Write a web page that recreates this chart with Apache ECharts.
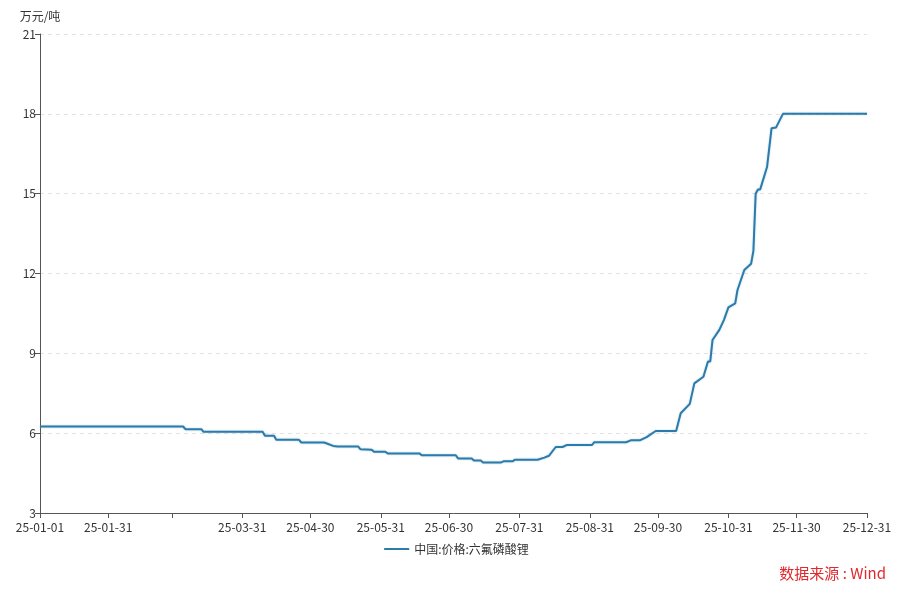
<!DOCTYPE html>
<html>
<head>
<meta charset="utf-8">
<script src="https://cdn.jsdelivr.net/npm/echarts@6/dist/echarts.min.js"></script>
<style>html,body{margin:0;padding:0;background:#fff}#c{width:913px;height:594px}</style>
</head>
<body>
<div id="c"></div>
<script>
// Tick dates (month ends) shown on x axis; Feb 28 tick has no label in the original
const tickDates = ["25-01-01","25-01-31","25-02-28","25-03-31","25-04-30","25-05-31","25-06-30","25-07-31","25-08-31","25-09-30","25-10-31","25-11-30","25-12-31"];
const hiddenLabelDates = ["25-02-28"];
const yTicks = [3, 6, 9, 12, 15, 18, 21];
const seriesName = "中国:价格:六氟磷酸锂";

// Price points (万元/吨) at dates where the series changes
const priceDates = ["25-01-01","25-03-05","25-03-06","25-03-13","25-03-14","25-04-09","25-04-10","25-04-14","25-04-15","25-04-25","25-04-26","25-05-06","25-05-07","25-05-10","25-05-12","25-05-21","25-05-22","25-05-27","25-05-28","25-06-02","25-06-03","25-06-17","25-06-18","25-07-03","25-07-04","25-07-10","25-07-11","25-07-14","25-07-15","25-07-23","25-07-24","25-07-28","25-07-29","25-08-08","25-08-11","25-08-13","25-08-16","25-08-19","25-08-21","25-09-01","25-09-02","25-09-16","25-09-18","25-09-22","25-09-25","25-09-29","25-10-08","25-10-10","25-10-14","25-10-16","25-10-20","25-10-22","25-10-23","25-10-24","25-10-27","25-10-29","25-10-31","25-11-03","25-11-04","25-11-07","25-11-10","25-11-11","25-11-12","25-11-13","25-11-14","25-11-17","25-11-19","25-11-21","25-11-24","25-12-31"];
const priceValues = [6.25,6.25,6.15,6.15,6.05,6.05,5.9,5.9,5.75,5.75,5.65,5.65,5.62,5.52,5.5,5.5,5.4,5.38,5.3,5.3,5.24,5.24,5.17,5.17,5.05,5.05,4.97,4.97,4.9,4.9,4.94,4.94,5.0,5.0,5.08,5.15,5.48,5.48,5.56,5.56,5.66,5.66,5.73,5.73,5.85,6.08,6.08,6.75,7.1,7.87,8.12,8.69,8.69,9.5,9.88,10.25,10.73,10.88,11.38,12.13,12.37,12.85,15.0,15.16,15.16,16.0,17.46,17.49,18.0,18.0];

// All calendar days of 2025 as axis categories
const days = [];
(function(){
  const d = new Date(Date.UTC(2025,0,1));
  while (d.getUTCFullYear() === 2025) {
    const m = String(d.getUTCMonth()+1).padStart(2,'0');
    const dd = String(d.getUTCDate()).padStart(2,'0');
    days.push('25-' + m + '-' + dd);
    d.setUTCDate(d.getUTCDate()+1);
  }
})();

const seriesData = priceDates.map((d, i) => [d, priceValues[i]]);

const chart = echarts.init(document.getElementById('c'), null, {renderer: 'canvas'});
const font = "'Noto Sans CJK SC', 'Microsoft YaHei', sans-serif";
chart.setOption({
  animation: false,
  textStyle: {fontFamily: font},
  grid: {left: 40, right: 46, top: 34, bottom: 81, containLabel: false},
  xAxis: {
    type: 'category',
    data: days,
    boundaryGap: false,
    axisLine: {lineStyle: {color: '#555'}},
    axisTick: {
      show: true,
      length: 5,
      lineStyle: {color: '#555'},
      interval: (idx, val) => tickDates.includes(val)
    },
    axisLabel: {
      color: '#333',
      fontSize: 12,
      fontFamily: font,
      margin: 8,
      interval: (idx, val) => tickDates.includes(val) && !hiddenLabelDates.includes(val)
    },
    splitLine: {show: false}
  },
  yAxis: {
    type: 'value',
    min: yTicks[0],
    max: yTicks[yTicks.length-1],
    interval: 3,
    name: '万元/吨',
    nameLocation: 'end',
    nameGap: 12,
    nameTextStyle: {color: '#333', fontSize: 12, fontFamily: font},
    axisLine: {show: true, lineStyle: {color: '#555'}},
    axisTick: {show: true, length: 5, lineStyle: {color: '#555'}},
    axisLabel: {color: '#333', fontSize: 12, fontFamily: font, margin: 4},
    splitLine: {show: true, lineStyle: {color: '#e3e3e3', type: [4, 4]}}
  },
  legend: {
    bottom: 34,
    left: 'center',
    itemWidth: 25,
    itemHeight: 10,
    itemGap: 6,
    icon: 'path://M0,4 L25,4 L25,6 L0,6 Z',
    textStyle: {color: '#333', fontSize: 12, fontFamily: font},
    data: [seriesName]
  },
  series: [{
    name: seriesName,
    type: 'line',
    data: seriesData,
    showSymbol: false,
    symbol: 'none',
    smooth: false,
    lineStyle: {color: '#2b7bab', width: 2, shadowColor: 'rgba(43,123,171,0.35)', shadowBlur: 2},
    itemStyle: {color: '#2b7bab'}
  }],
  graphic: [{
    type: 'text',
    right: 27,
    top: 566,
    style: {text: '数据来源 : Wind', fill: '#e0282e', fontSize: 15, fontFamily: font}
  }]
});
</script>
</body>
</html>
